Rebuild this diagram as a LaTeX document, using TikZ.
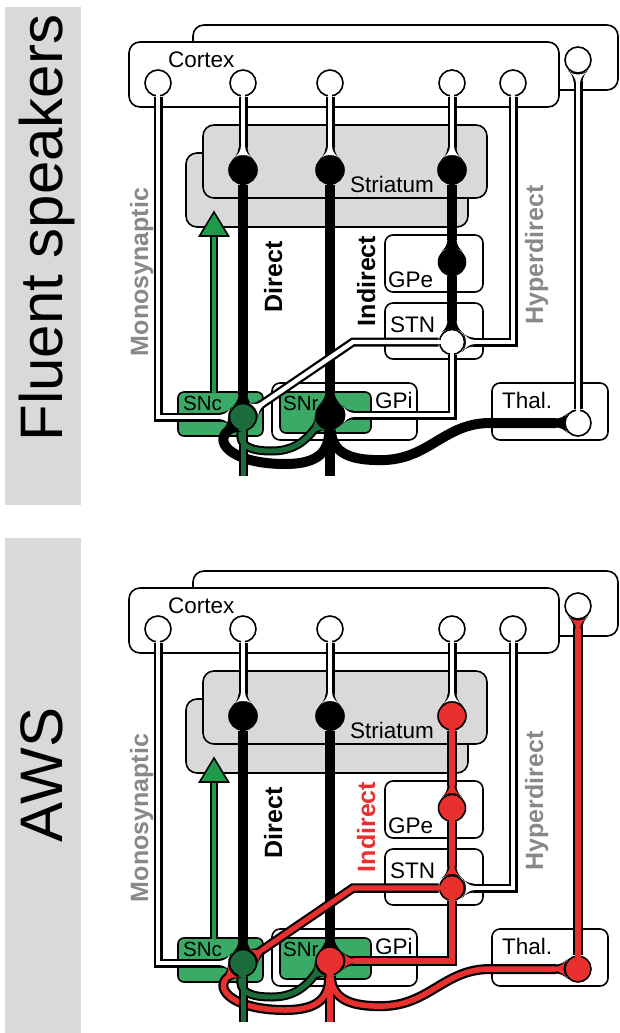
\documentclass[tikz,border=0pt]{standalone}
\usepackage{fontspec}
\setmainfont{Liberation Sans}
\definecolor{bargray}{HTML}{D9D9D9}
\definecolor{strgray}{HTML}{D9D9D9}
\definecolor{boxgreen}{HTML}{3BAA66}
\definecolor{arrgreen}{HTML}{1F9A4A}
\definecolor{dkgreen}{HTML}{1C6B3A}
\definecolor{lblgray}{HTML}{888888}
\definecolor{pathred}{HTML}{E8312F}

\tikzset{
  region/.style={draw=black, line width=1.6pt, rounded corners=#1},
  region/.default=11pt,
  lbl/.style={inner sep=0pt, anchor=base west, font=\fontsize{22.5}{26}\selectfont},
  slbl/.style={inner sep=0pt, anchor=base west, font=\fontsize{20.5}{24}\selectfont},
  vlbl/.style={inner sep=0pt, rotate=90, anchor=base, font=\fontsize{25}{28}\selectfont\bfseries},
  biglbl/.style={inner sep=0pt, rotate=90, anchor=base, font=\fontsize{60}{62}\selectfont},
  neuron/.style={circle, draw=black, line width=1.6pt, inner sep=0pt, minimum size=#1},
}

% outer (black) part of a tube, from a neuron's border
\newcommand\tout[3]{\draw[line width=#1, black] (#2) #3;}
% inner (coloured) part of a tube, from the neuron's centre
\newcommand\tin[4]{\draw[line width=#1, #2] (#3.center) #4;}
% synaptic ending: x, y, direction towards target, colour
\newcommand\syn[4]{%
  \begin{scope}[shift={(#1,#2)}, rotate=#3]
    \fill[black] (-5,4.5) .. controls (-1,4.5) and (3.5,6.5) .. (6.5,10)
      .. controls (2.8,5) and (2.8,-5) .. (6.5,-10)
      .. controls (3.5,-6.5) and (-1,-4.5) .. (-5,-4.5) -- cycle;
    \fill[#4] (-5.5,2.2) .. controls (-1.5,2.2) and (2,4.8) .. (4.6,8)
      .. controls (1.8,4) and (1.8,-4) .. (4.6,-8)
      .. controls (2,-4.8) and (-1.5,-2.2) .. (-5.5,-2.2) -- cycle;
  \end{scope}}

\newcommand\drawpanel[1]{%
  % regions
  \draw[region, fill=white] (193,25) rectangle (618,90);
  \draw[region, fill=white] (129,42) rectangle (559,107);
  \draw[region, fill=strgray] (186,153) rectangle (468,227);
  \draw[region, fill=strgray] (203,125) rectangle (487,198);
  \draw[region=8pt, fill=white] (385,235) rectangle (483,292);
  \draw[region=8pt, fill=white] (385,303) rectangle (483,359);
  \draw[region=8pt, fill=white] (272,383) rectangle (417,440);
  \draw[region=8pt, fill=white] (492,383) rectangle (608,440);
  \draw[region=6pt, fill=boxgreen] (280,392) rectangle (371,433);
  \draw[region=6pt, fill=boxgreen] (178,392) rectangle (263,436);
  % labels
  \node[lbl] (#1Lctx) at (168,67) {Cortex};
  \node[lbl] (#1Lstr) at (350,192) {Striatum};
  \node[lbl] (#1Lgpe) at (388,287) {GPe};
  \node[lbl] (#1Lstn) at (390,332) {STN};
  \node[lbl] (#1Lgpi) at (375,408) {GPi};
  \node[lbl] (#1Lthal) at (502,408) {Thal.};
  \node[slbl] (#1Lsnr) at (283,410) {SNr};
  \node[slbl] (#1Lsnc) at (183,410) {SNc};
  \node[vlbl, text=lblgray] (#1Lmono) at (148,272) {Monosynaptic};
  \node[vlbl] (#1Ldir) at (282,277) {Direct};
  \node[vlbl, text=\cI] (#1Lind) at (375,281) {Indirect};
  \node[vlbl, text=lblgray] (#1Lhyp) at (543,255) {Hyperdirect};
  % dopaminergic arrow
  \coordinate (#1ab) at (214,392);
  \coordinate (#1at) at (214,234);
  \draw[line width=8.5pt, black] (#1ab) -- (#1at);
  \draw[line width=4.5pt, arrgreen] (214,394) -- (#1at);
  \filldraw[fill=arrgreen, draw=black, line width=1.6pt, line join=miter] (214,212) -- (228.5,236) -- (199.5,236) -- cycle;
  % neurons
  \node[neuron=26pt, fill=white] (#1cx1) at (158,83) {};
  \node[neuron=26pt, fill=white] (#1cx2) at (243,83) {};
  \node[neuron=26pt, fill=white] (#1cx3) at (330,83) {};
  \node[neuron=26pt, fill=white] (#1cx4) at (452,83) {};
  \node[neuron=26pt, fill=white] (#1cx5) at (513,83) {};
  \node[neuron=26pt, fill=white] (#1cx6) at (578,60) {};
  \node[neuron=28pt, fill=black] (#1s1) at (243,170) {};
  \node[neuron=28pt, fill=black] (#1s2) at (330,170) {};
  \node[neuron=28pt, fill=\cA] (#1s3) at (452,170) {};
  \node[neuron=27pt, fill=\cA] (#1g) at (452,262) {};
  \node[neuron=25pt, fill=\cB] (#1t) at (452,342) {};
  \node[neuron=27pt, fill=dkgreen] (#1c) at (243,417) {};
  \node[neuron=28pt, fill=\cC] (#1r) at (330,415) {};
  \node[neuron=26pt, fill=\cB] (#1h) at (578,423) {};
  % cortical tubes
  \tout{9pt}{#1cx1}{-- (158,417) -- (221,417)}
  \tout{9pt}{#1cx2}{-- (243,148)}
  \tout{9pt}{#1cx3}{-- (330,148)}
  \tout{9pt}{#1cx4}{-- (452,148)}
  \tout{9pt}{#1cx5}{-- (513,342) -- (473,342)}
  \tin{4.4pt}{white}{#1cx1}{-- (158,417) -- (221,417)}
  \tin{4.4pt}{white}{#1cx2}{-- (243,148)}
  \tin{4.4pt}{white}{#1cx3}{-- (330,148)}
  \tin{4.4pt}{white}{#1cx4}{-- (452,148)}
  \tin{4.4pt}{white}{#1cx5}{-- (513,342) -- (473,342)}
  % thalamo-cortical
  \tout{\wBo}{#1h}{-- (578,81)}
  \tin{\wBi}{\cB}{#1h}{-- (578,81)}
  % striatal and pallidal lines
  \tout{10pt}{#1s1}{-- (243,395)}
  \tout{10pt}{#1s2}{-- (330,393)}
  \tout{10pt}{#1s3}{-- (452,240)}
  \tout{10pt}{#1g}{-- (452,321)}
  \tin{5.5pt}{black}{#1s1}{-- (243,395)}
  \tin{5.5pt}{black}{#1s2}{-- (330,393)}
  \tin{5.5pt}{\cA}{#1s3}{-- (452,240)}
  \tin{5.5pt}{\cA}{#1g}{-- (452,321)}
  % SNr outputs
  \tout{10pt}{#1r}{-- (330,476)}
  \tout{10pt}{#1r}{-- (331,432) .. controls (333,454) and (352,461) .. (385,460) .. controls (430,458) and (445,423) .. (490,423) -- (556,423)}
  \tout{10pt}{#1r}{-- (329,432) .. controls (329,456) and (312,464) .. (285,464) .. controls (235,464) and (214,444) .. (227.2,431.6)}
  \tin{5.5pt}{\cC}{#1r}{-- (330,476)}
  \tin{5.5pt}{\cC}{#1r}{-- (331,432) .. controls (333,454) and (352,461) .. (385,460) .. controls (430,458) and (445,423) .. (490,423) -- (556,423)}
  \tin{5.5pt}{\cC}{#1r}{-- (329,432) .. controls (329,456) and (312,464) .. (285,464) .. controls (235,464) and (214,444) .. (227.2,431.6)}
  % STN outputs
  \tout{\wBo}{#1t}{-- (353,342) -- (260.8,404.9)}
  \tout{\wBo}{#1t}{-- (452,415) -- (352,415)}
  \tin{\wBi}{\cB}{#1t}{-- (353,342) -- (260.8,404.9)}
  \tin{\wBi}{\cB}{#1t}{-- (452,415) -- (352,415)}
  % SNc outputs
  \tout{9pt}{#1c}{-- (241,432) .. controls (239,446) and (250,451) .. (272,451) .. controls (294,451) and (306,440) .. (314.2,429.6)}
  \tout{9pt}{#1c}{-- (243,476)}
  \tin{5pt}{dkgreen}{#1c}{-- (241,432) .. controls (239,446) and (250,451) .. (272,451) .. controls (294,451) and (306,440) .. (314.2,429.6)}
  \tin{5pt}{dkgreen}{#1c}{-- (243,476)}
  % synapses
  \syn{225.5}{417}{0}{white}
  \syn{243}{152.5}{-90}{white}
  \syn{330}{152.5}{-90}{white}
  \syn{452}{152.5}{-90}{white}
  \syn{468.5}{342}{180}{white}
  \syn{578}{77}{90}{\cB}
  \syn{243}{399.5}{-90}{black}
  \syn{330}{397}{-90}{black}
  \syn{452}{244.5}{-90}{\cA}
  \syn{452}{325.5}{-90}{\cA}
  \syn{257.5}{407.2}{214.3}{\cB}
  \syn{348}{415}{180}{\cB}
  \syn{561}{423}{0}{\cC}
  \syn{230.1}{428.9}{42.7}{\cC}
  \syn{316.8}{427.2}{42.7}{dkgreen}
}

\begin{document}
\begin{tikzpicture}[x=1pt, y=-1pt]
  \useasboundingbox (0,0) rectangle (619,1033);
  \fill[bargray] (5,7) rectangle (81,505);
  \fill[bargray] (5,538) rectangle (81,1033);
  \node[biglbl] (fluent) at (62,228) {Fluent speakers};
  \node[biglbl] (aws) at (62,775) {AWS};
  \begin{scope}
    \def\cA{black}\def\cB{white}\def\cC{black}\def\cI{black}
    \def\wBo{9pt}\def\wBi{4.4pt}
    \drawpanel{T}
  \end{scope}
  \begin{scope}[yshift=-546pt]
    \def\cA{pathred}\def\cB{pathred}\def\cC{pathred}\def\cI{pathred}
    \def\wBo{9.5pt}\def\wBi{5.2pt}
    \drawpanel{B}
  \end{scope}
\end{tikzpicture}
\end{document}
